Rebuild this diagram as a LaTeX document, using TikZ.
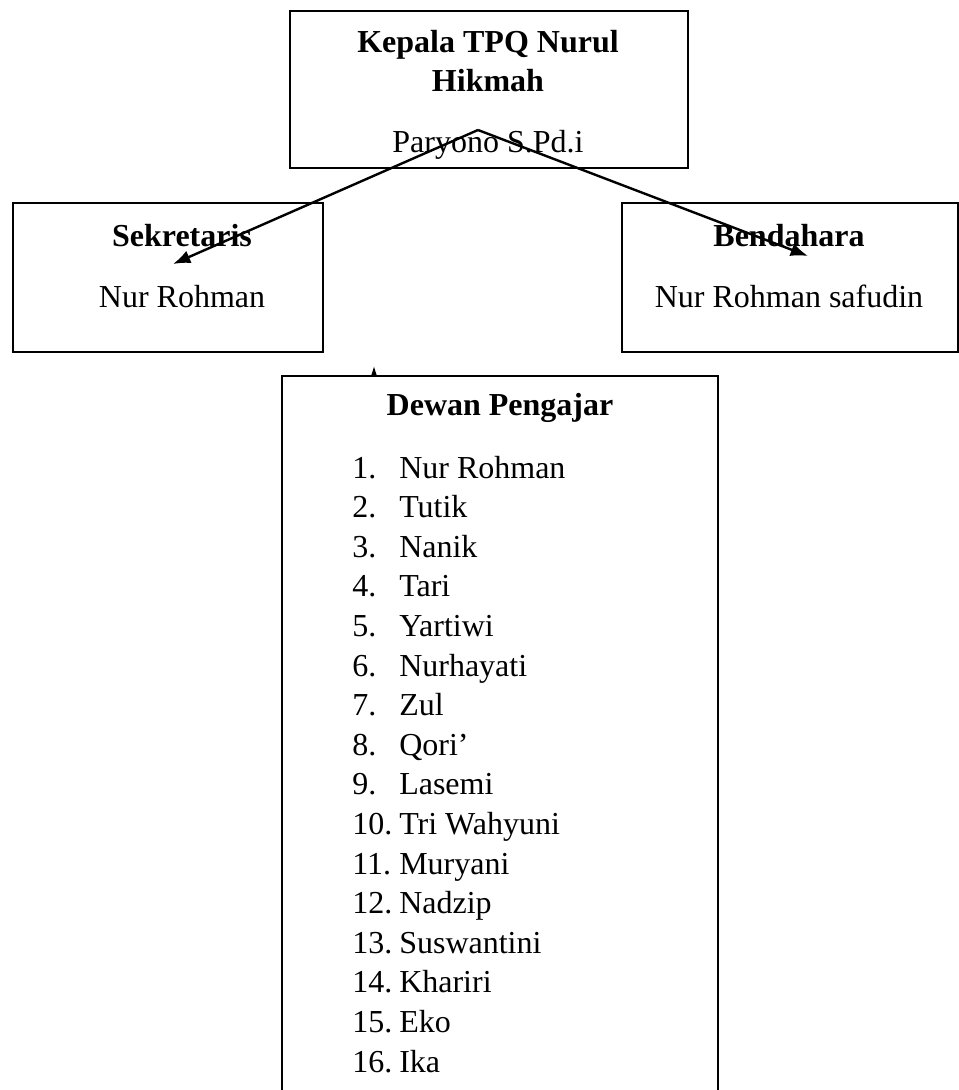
\documentclass[tikz,border=0pt]{standalone}
\usepackage{fontspec}
\setmainfont{Liberation Serif}
\usetikzlibrary{arrows.meta}

\tikzset{
    box/.style={draw, line width=1.9pt, inner sep=0pt, fill=white},
    txt/.style={anchor=base, inner sep=0pt, font=\fontsize{24}{29}\selectfont},
    head/.style={txt, font=\fontsize{24}{29}\selectfont\bfseries},
    link/.style={->, line width=1.8pt}
}

\begin{document}
\begin{tikzpicture}[x=0.75pt, y=-0.75pt, >={Latex[length=13pt,width=10pt]}]
    \useasboundingbox (0,0) rectangle (959,1090);
    \clip (0,0) rectangle (959,1090);

    % Hidden arrow under the teachers box
    \coordinate (Dewan-Tail) at (374,420);
    \coordinate (Dewan-Tip) at (374,366);
    \draw[link] (Dewan-Tail) -- (Dewan-Tip);

    % Boxes
    \node[box, minimum width=298.5pt, minimum height=117.75pt] (Kepala) at (489,89.5) {};
    \node[box, minimum width=232.5pt, minimum height=111.75pt] (Sekretaris) at (168,277.5) {};
    \node[box, minimum width=252pt, minimum height=111.75pt] (Bendahara) at (790,277.5) {};
    \node[box, minimum width=327pt, minimum height=550.5pt] (Dewan) at (500,743) {};

    % Head
    \node[head] (Kepala-Title1) at (488,52) {Kepala TPQ Nurul};
    \node[head] (Kepala-Title2) at (488,91) {Hikmah};
    \node[txt] (Kepala-Name) at (488,152) {Paryono S.Pd.i};

    % Secretary and treasurer
    \node[head] (Sekretaris-Title) at (182,246) {Sekretaris};
    \node[txt] (Sekretaris-Name) at (182,307) {Nur Rohman};
    \node[head] (Bendahara-Title) at (789,246) {Bendahara};
    \node[txt] (Bendahara-Name) at (789,307) {Nur Rohman safudin};

    % Connections from the head
    \coordinate (Kepala-Src) at (478,130);
    \coordinate (Sekretaris-Tip) at (173,264);
    \coordinate (Bendahara-Tip) at (808,256);
    \draw[link] (Kepala-Src) -- (Sekretaris-Tip);
    \draw[link] (Kepala-Src) -- (Bendahara-Tip);

    % Teachers
    \node[head] (Dewan-Title) at (500,415) {Dewan Pengajar};
    \foreach \name [count=\i] in {Nur Rohman, Tutik, Nanik, Tari, Yartiwi,
        Nurhayati, Zul, Qori’, Lasemi, Tri Wahyuni, Muryani, Nadzip,
        Suswantini, Khariri, Eko, Ika}
    {
        \node[txt, anchor=base west] (Num-\i) at (352,{478+(\i-1)*39.6}) {\i.};
        \node[txt, anchor=base west] (Teacher-\i) at (399,{478+(\i-1)*39.6}) {\name};
    }
\end{tikzpicture}
\end{document}
